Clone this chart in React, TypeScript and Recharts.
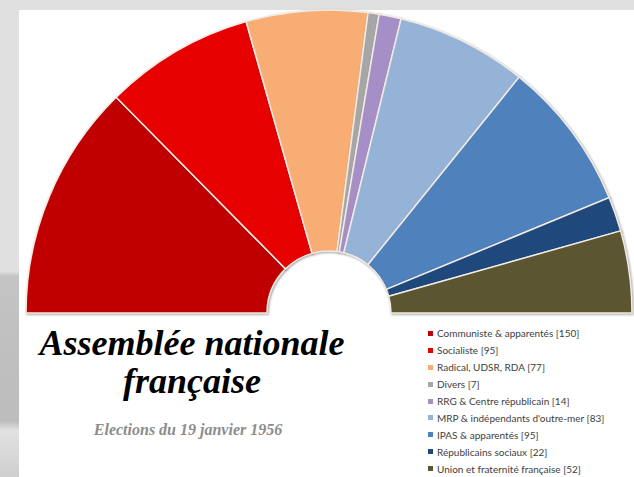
import React from 'react';
import { PieChart, Pie, Cell, Legend } from 'recharts';

const parties = [
  'Communiste & apparentés',
  'Socialiste',
  'Radical, UDSR, RDA',
  'Divers',
  'RRG & Centre républicain',
  "MRP & indépendants d'outre-mer",
  'IPAS & apparentés',
  'Républicains sociaux',
  'Union et fraternité française',
];
const seats = [150, 95, 77, 7, 14, 83, 95, 22, 52];
const colors = ['#c00000', '#e60000', '#f7ad74', '#a6a6a6', '#a68fc6', '#95b3d7', '#4f81bd', '#1f497d', '#5b5532'];

const data = parties.map((name, i) => ({ name: `${name} [${seats[i]}]`, value: seats[i] }));

// the legend keeps the order of the data instead of sorting it
const renderLegend = () => (
  <div style={{ fontFamily: 'Lato, sans-serif', fontSize: 10, color: '#404040' }}>
    {data.map((entry, i) => (
      <div key={entry.name} style={{ display: 'flex', alignItems: 'center', height: 16.9 }}>
        <span style={{ width: 5, height: 5, background: colors[i], marginRight: 4, display: 'inline-block' }} />
        <span>{entry.name}</span>
      </div>
    ))}
  </div>
);

const App: React.FC = () => {
  return (
    <div style={{ position: 'absolute', left: 0, top: 0, width: 634, height: 477, background: '#e0e0e0', overflow: 'hidden' }}>
      <div
        style={{
          position: 'absolute',
          left: 0,
          top: 10,
          width: 19,
          height: 467,
          background:
            'linear-gradient(180deg, #e0e0e0 0%, #e0e0e0 56%, #c4c4c4 57%, #bcbcbc 88%, #e2e2e2 90%, #cfcfcf 100%)',
        }}
      />
      <div style={{ position: 'absolute', left: 19, top: 10, width: 615, height: 467, background: '#ffffff' }} />
      <div style={{ position: 'absolute', left: 0, top: 0 }}>
        <PieChart width={634} height={477} margin={{ top: 0, right: 0, bottom: 0, left: 0 }}>
          <Pie
            data={data}
            dataKey="value"
            nameKey="name"
            cx={329}
            cy={313}
            startAngle={180}
            endAngle={0}
            innerRadius={62}
            outerRadius={303}
            stroke="#f2ebe4"
            strokeWidth={1.5}
            isAnimationActive={false}
            style={{ filter: 'drop-shadow(1px 1px 1px rgba(0,0,0,0.35))' }}
          >
            {data.map((d, i) => (
              <Cell key={d.name} fill={colors[i]} />
            ))}
          </Pie>
          <Legend
            layout="vertical"
            content={renderLegend}
            wrapperStyle={{ position: 'absolute', left: 428, top: 325, width: 200 }}
          />
        </PieChart>
      </div>
      <div
        style={{
          position: 'absolute',
          left: 22,
          top: 324,
          width: 340,
          textAlign: 'center',
          fontFamily: '"Liberation Serif", serif',
          fontStyle: 'italic',
          fontWeight: 'bold',
          fontSize: 36,
          lineHeight: '38px',
          color: '#000',
          whiteSpace: 'nowrap',
        }}
      >
        Assemblée nationale
        <br />
        française
      </div>
      <div
        style={{
          position: 'absolute',
          left: 18,
          top: 420,
          width: 340,
          textAlign: 'center',
          fontFamily: '"Liberation Serif", serif',
          fontStyle: 'italic',
          fontWeight: 'bold',
          fontSize: 16,
          lineHeight: '20px',
          color: '#8c8c8c',
        }}
      >
        Elections du 19 janvier 1956
      </div>
    </div>
  );
};

export default App;
